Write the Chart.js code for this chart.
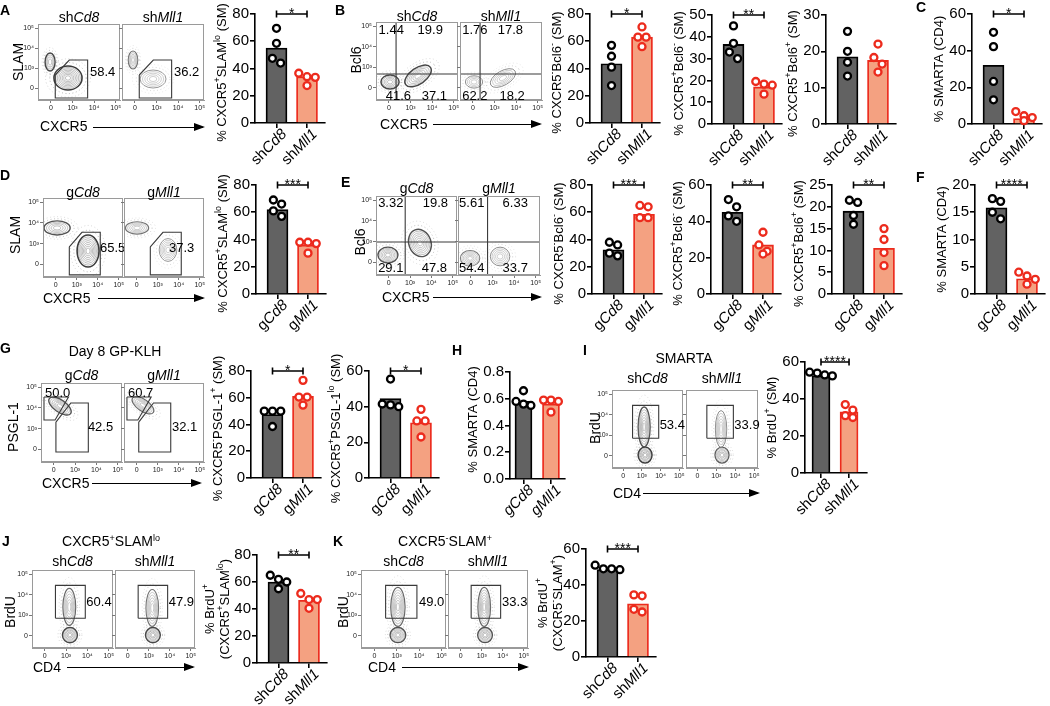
<!DOCTYPE html>
<html>
<head>
<meta charset="utf-8">
<script src="https://cdn.jsdelivr.net/npm/chart.js@4.4.1/dist/chart.umd.min.js"></script>
<style>
  body { margin: 0; background: #fff; }
  #fig { position: relative; width: 1050px; height: 706px; overflow: hidden;
         font-family: "Liberation Sans", Arial, sans-serif; color: #000; }
  #fig canvas { position: absolute; }
  .t { position: absolute; white-space: nowrap; line-height: 1; font-size: 14px; }
  .t sup { font-size: 9px; vertical-align: 5px; line-height: 0; }
  .arr { position: absolute; height: 0; border-top: 1.6px solid #000; }
  .arr:after { content: ""; position: absolute; right: -2px; top: -5.5px;
               border-left: 11px solid #000; border-top: 4.5px solid transparent;
               border-bottom: 4.5px solid transparent; }
</style>
</head>
<body>
<div id="fig"></div>
<script>
const FONT = '"Liberation Sans", Arial, sans-serif';
Chart.defaults.font.family = FONT;
Chart.defaults.color = '#000';

// ---- bar + dot data (means, then the four mice per group) ----
const SH = ['sh{i:Cd8}', 'sh{i:Mll1}'];
const G = ['g{i:Cd8}', 'g{i:Mll1}'];
const G_IT = ['{i:gCd8}', '{i:gMll1}'];

const A_MEANS = [55, 34],      A_CD8 = [69.5, 58.5, 47.5, 44],  A_MLL1 = [36.5, 34, 33.5, 27.5];
const B1_MEANS = [43.5, 63],   B1_CD8 = [57, 49, 41, 27.5],     B1_MLL1 = [70.5, 63, 63, 56];
const B2_MEANS = [36.5, 17],   B2_CD8 = [45, 37, 33, 30],       B2_MLL1 = [19.5, 18.3, 17.8, 13.7];
const B3_MEANS = [18.5, 17.5], B3_CD8 = [25.5, 20, 17, 13.2],   B3_MLL1 = [22, 18.3, 16.5, 14.3];
const C_MEANS = [32, 3],       C_CD8 = [50, 42.2, 23.2, 13.2],  C_MLL1 = [6.8, 4.5, 3.5, 1.8];
const D_MEANS = [62, 36],      D_CD8 = [69, 66, 61, 57],        D_MLL1 = [38, 38, 37, 30];
const E1_MEANS = [32.5, 58.5], E1_CD8 = [38, 36, 30, 28],       E1_MLL1 = [65, 64, 56, 56];
const E2_MEANS = [45, 27],     E2_CD8 = [52, 48, 43, 40],       E2_MLL1 = [34, 27, 23.5, 22];
const E3_MEANS = [19, 10.5],   E3_CD8 = [21.5, 21, 18, 16],     E3_MLL1 = [15, 12.5, 9.5, 6.5];
const F_MEANS = [15.8, 2.8],   F_CD8 = [17.5, 17, 15, 13.8],    F_MLL1 = [4, 3.3, 2.7, 1.8];
const G1_MEANS = [47.5, 61],   G1_CD8 = [50, 50, 50, 38.5],     G1_MLL1 = [73, 60.5, 60.5, 54.5];
const G2_MEANS = [44.5, 31],   G2_CD8 = [55.5, 41.5, 41, 40],   G2_MLL1 = [38.5, 32, 32, 23];
const H_MEANS = [0.58, 0.56],  H_CD8 = [0.66, 0.58, 0.56, 0.55], H_MLL1 = [0.59, 0.59, 0.58, 0.5];
const I_MEANS = [52.5, 33],    I_CD8 = [54.5, 54, 53, 52.5],    I_MLL1 = [37, 34, 31, 30];
const J_MEANS = [60, 46.5],    J_CD8 = [65, 62, 60, 55],        J_MLL1 = [51.5, 47, 47, 40.5];
const K_MEANS = [48.5, 29.5],  K_CD8 = [51, 49, 49, 48.5],      K_MLL1 = [34.5, 34, 26.5, 25];

// ---- flow plot data (axis units: 0, 10^3, 10^4, 10^5 at 0..3) ----
const FLOW_TICKS = [0, 1, 2, 3];
const FLOW_TICK_LABELS = ['0', '10³', '10⁴', '10⁵'];
const GATE_SLAM = [[0.2, 0.65], [0.85, 1.4], [1.7, 1.4], [1.7, -0.5], [0.2, -0.5]];
const GATE_SLAM_D = [[0.65, 0.85], [1.25, 1.55], [2.12, 1.55], [2.12, -0.5], [0.65, -0.5]];
const GATE_PSGL_HI = [[-0.46, 2.53], [0.69, 2.53], [0.06, 1.42], [-0.46, 1.42]];
const GATE_PSGL_LO = [[0.1, 1.32], [0.8, 2.24], [1.62, 2.24], [1.62, -0.12], [0.1, -0.12]];
const GATE_BRDU = [[0.5, 0.85], [1.9, 0.85], [1.9, 2.45], [0.5, 2.45]];

const GRAY_FILL = '#626262', RED_FILL = '#f4a181', RED_LINE = '#ec2b1d';

const fig = document.getElementById('fig');

function makeCanvas(l, t, w, h) {
  const c = document.createElement('canvas');
  c.width = w; c.height = h;
  c.style.left = l + 'px'; c.style.top = t + 'px';
  c.style.width = w + 'px'; c.style.height = h + 'px';
  fig.appendChild(c);
  return c;
}

function addText(html, x, y, opt) {
  opt = opt || {};
  const d = document.createElement('div');
  d.className = 't';
  d.innerHTML = html;
  d.style.left = x + 'px';
  d.style.top = y + 'px';
  if (opt.size) d.style.fontSize = opt.size + 'px';
  if (opt.bold) d.style.fontWeight = 'bold';
  const ax = opt.align === 'c' ? '-50%' : '0';
  d.style.transform = opt.rot ? 'translate(-50%,-50%) rotate(-90deg)' : 'translate(' + ax + ',-50%)';
  fig.appendChild(d);
}

function addArrow(x1, x2, y) {
  const d = document.createElement('div');
  d.className = 'arr';
  d.style.left = x1 + 'px'; d.style.top = y + 'px'; d.style.width = (x2 - x1) + 'px';
  fig.appendChild(d);
}

// "{i:..}" italic, "{s:..}" superscript
function parseRich(s) {
  const out = [], re = /\{(i|s):([^}]*)\}/g;
  let last = 0, m;
  while ((m = re.exec(s))) {
    if (m.index > last) out.push({ t: s.slice(last, m.index), k: '' });
    out.push({ t: m[2], k: m[1] });
    last = re.lastIndex;
  }
  if (last < s.length) out.push({ t: s.slice(last), k: '' });
  return out;
}

function drawRich(ctx, s, x, y, size, align) {
  const segs = parseRich(s);
  const font = k => (k === 'i' ? 'italic ' : '') + (k === 's' ? Math.round(size * 0.66) : size) + 'px ' + FONT;
  let w = 0;
  segs.forEach(g => { ctx.font = font(g.k); g.w = ctx.measureText(g.t).width; w += g.w; });
  let cx = align === 'right' ? x - w : align === 'center' ? x - w / 2 : x;
  const base = y + size * 0.36;
  ctx.textAlign = 'left';
  ctx.textBaseline = 'alphabetic';
  segs.forEach(g => {
    ctx.font = font(g.k);
    ctx.fillText(g.t, cx, g.k === 's' ? base - size * 0.4 : base);
    cx += g.w;
  });
}

// spread dots sideways when they would overlap
function swarm(vals, max) {
  const thr = max * 0.075;
  const idx = vals.map((v, i) => i).sort((a, b) => vals[b] - vals[a]);
  const offs = vals.map(() => 0);
  let i = 0;
  while (i < idx.length) {
    let j = i;
    while (j + 1 < idx.length && vals[idx[i]] - vals[idx[j + 1]] < thr) j++;
    const n = j - i + 1;
    for (let k = 0; k < n; k++) offs[idx[i + k]] = (k - (n - 1) / 2) * 0.27;
    i = j + 1;
  }
  return offs;
}

function barDecor(p) {
  return {
    id: 'decor',
    afterDraw(chart) {
      const ctx = chart.ctx, sx = chart.scales.x, sy = chart.scales.y;
      ctx.save();
      ctx.fillStyle = '#000';
      ctx.strokeStyle = '#000';
      if (p.star) {
        const y = sy.getPixelForValue(p.max), x1 = sx.getPixelForValue(1), x2 = sx.getPixelForValue(2);
        ctx.lineWidth = 1.6;
        ctx.beginPath();
        ctx.moveTo(x1, y); ctx.lineTo(x2, y);
        ctx.moveTo(x1, y - 3.5); ctx.lineTo(x1, y + 3.5);
        ctx.moveTo(x2, y - 3.5); ctx.lineTo(x2, y + 3.5);
        ctx.stroke();
        ctx.font = '14px ' + FONT;
        ctx.textAlign = 'center';
        ctx.textBaseline = 'alphabetic';
        ctx.fillText(p.star, (x1 + x2) / 2, y + 4);
      }
      const lines = Array.isArray(p.title) ? p.title : [p.title];
      const tx = p.tx || [-34];
      const cy = (sy.top + sy.bottom) / 2 + (p.ty === undefined ? 4 : p.ty);
      lines.forEach((ln, i) => {
        ctx.save();
        ctx.translate(sx.left + tx[i], cy);
        ctx.rotate(-Math.PI / 2);
        drawRich(ctx, ln, 0, 0, 13, 'center');
        ctx.restore();
      });
      p.labels.forEach((lab, i) => {
        const x = sx.getPixelForValue(i + 1);
        ctx.save();
        ctx.translate(x + 7, sy.bottom + 8);
        ctx.rotate(-Math.PI / 4);
        drawRich(ctx, lab, 0, 0, 15, 'right');
        ctx.restore();
      });
      ctx.restore();
    }
  };
}

function barChart(p) {
  const g = Object.assign({ w: 70, bw: 21, min: 0.295, max: 2.59 }, p.geo || {});
  const left = p.x0 - 78, top = p.yTop - 30;
  const W = 78 + g.w + 6, H = p.yBot - top + 55;
  const cv = makeCanvas(left, top, W, H);
  const offA = swarm(p.a, p.max), offB = swarm(p.b, p.max);
  const dots = (vals, offs, x, col) => ({
    type: 'scatter', data: vals.map((v, i) => ({ x: x + offs[i], y: v })),
    pointRadius: 3.5, pointBorderWidth: 2.3, pointBackgroundColor: '#fff',
    pointBorderColor: col, clip: false, order: 1
  });
  const axisGrid = { drawOnChartArea: false, color: '#000', lineWidth: 1.6, tickLength: 5, offset: false };
  new Chart(cv, {
    type: 'bar',
    data: {
      datasets: [
        { data: [{ x: 1, y: p.means[0] }, { x: 2, y: p.means[1] }],
          backgroundColor: [GRAY_FILL, RED_FILL], borderColor: ['#000', RED_LINE],
          borderWidth: 1.8, barThickness: g.bw, order: 2 },
        dots(p.a, offA, 1, '#000'),
        dots(p.b, offB, 2, RED_LINE)
      ]
    },
    options: {
      responsive: false, animation: false, devicePixelRatio: 1,
      layout: { padding: { left: 0, right: 6, top: p.yTop - top, bottom: 0 }, autoPadding: false },
      plugins: { legend: { display: false }, tooltip: { enabled: false } },
      scales: {
        x: {
          type: 'linear', min: g.min, max: g.max, offset: false, bounds: 'data',
          afterDataLimits: s => { s.min = g.min; s.max = g.max; },
          afterBuildTicks: s => { s.ticks = [{ value: 1 }, { value: 2 }]; },
          afterFit: s => { s.height = H - (p.yBot - top); s.paddingLeft = 0; s.paddingRight = 0; },
          ticks: { display: false },
          grid: axisGrid,
          border: { color: '#000', width: 1.6 }
        },
        y: {
          min: 0, max: p.max,
          afterFit: s => { s.width = 78; },
          ticks: { stepSize: p.step, font: { size: 15 }, padding: 1, color: '#000',
                   callback: v => (p.dec ? v.toFixed(p.dec) : v) },
          grid: axisGrid,
          border: { color: '#000', width: 1.6 }
        }
      }
    },
    plugins: [barDecor(p)]
  });
}

function drawBlob(ctx, sx, sy, b) {
  const [cx, cy, rx, ry, rot, n, tone] = b;
  const px = sx.getPixelForValue(cx), py = sy.getPixelForValue(cy);
  const prx = sx.getPixelForValue(cx + rx) - px, pry = py - sy.getPixelForValue(cy + ry);
  const a = rot * Math.PI / 180;
  ctx.setLineDash([1, 2.5]);
  ctx.lineWidth = 0.8;
  ctx.strokeStyle = 'rgba(110,110,110,' + (0.25 + 0.35 * tone) + ')';
  ctx.beginPath(); ctx.ellipse(px, py, prx * 1.3, pry * 1.3, a, 0, 2 * Math.PI); ctx.stroke();
  ctx.strokeStyle = 'rgba(130,130,130,' + (0.15 + 0.25 * tone) + ')';
  ctx.beginPath(); ctx.ellipse(px, py, prx * 1.6, pry * 1.6, a, 0, 2 * Math.PI); ctx.stroke();
  ctx.setLineDash([]);
  for (let k = 0; k < n; k++) {
    const f = 1 - k / (n + 0.6);
    const v = k === 0 ? Math.round(170 - 110 * tone) : Math.round(185 - 35 * tone);
    ctx.lineWidth = k === 0 ? 0.7 + 0.9 * tone : 0.6;
    ctx.strokeStyle = 'rgb(' + v + ',' + v + ',' + v + ')';
    ctx.beginPath(); ctx.ellipse(px, py, prx * f, pry * f, a, 0, 2 * Math.PI); ctx.stroke();
  }
}

function flowDecor(blobs, labels) {
  return {
    id: 'flowDecor',
    beforeDatasetsDraw(chart) {
      const ctx = chart.ctx, sx = chart.scales.x, sy = chart.scales.y, a = chart.chartArea;
      ctx.save();
      ctx.beginPath(); ctx.rect(a.left, a.top, a.right - a.left, a.bottom - a.top); ctx.clip();
      blobs.forEach(b => drawBlob(ctx, sx, sy, b));
      ctx.restore();
    },
    afterDraw(chart) {
      const ctx = chart.ctx, sx = chart.scales.x, sy = chart.scales.y, a = chart.chartArea;
      ctx.save();
      ctx.strokeStyle = '#9a9a9a';
      ctx.lineWidth = 1;
      ctx.strokeRect(a.left + 0.5, a.top + 0.5, a.right - a.left - 1, a.bottom - a.top - 1);
      ctx.fillStyle = '#000';
      labels.forEach(([t, x, y, al]) => {
        ctx.font = '13px ' + FONT;
        ctx.textAlign = al;
        ctx.textBaseline = 'middle';
        ctx.fillText(t, sx.getPixelForValue(x), sy.getPixelForValue(y));
      });
      ctx.restore();
    }
  };
}

function flowChart(fs, bi) {
  const box = fs.boxes[bi];
  const left = box.l - 20, top = box.t - 3;
  const W = box.w + 23, H = box.h + 17;
  const cv = makeCanvas(left, top, W, H);
  const ds = [];
  const line = pts => ({
    data: pts.map(([x, y]) => ({ x, y })), showLine: true, pointRadius: 0,
    borderColor: '#3a3a3a', borderWidth: 1.1, clip: false
  });
  (fs.gates || []).forEach(poly => ds.push(line(poly.concat([poly[0]]))));
  if (fs.quad) {
    ds.push(line([[-0.6, fs.quad[1]], [3.2, fs.quad[1]]]));
    ds.push(line([[fs.quad[0], -0.6], [fs.quad[0], 3.2]]));
  }
  const axis = (show, fit) => ({
    min: -0.6, max: 3.2,
    afterBuildTicks: s => { s.ticks = FLOW_TICKS.map(v => ({ value: v })); },
    afterFit: fit,
    ticks: { display: show, font: { size: 7 }, padding: 1, color: '#222', maxRotation: 0, autoSkip: false,
             callback: v => FLOW_TICK_LABELS[FLOW_TICKS.indexOf(v)] },
    grid: { drawOnChartArea: false, tickLength: 3, color: '#777', lineWidth: 1 },
    border: { color: '#9a9a9a', width: 1 }
  });
  new Chart(cv, {
    type: 'scatter',
    data: { datasets: ds },
    options: {
      responsive: false, animation: false, devicePixelRatio: 1,
      layout: { padding: { left: 0, top: 3, right: 3, bottom: 0 }, autoPadding: false },
      plugins: { legend: { display: false }, tooltip: { enabled: false } },
      scales: {
        x: axis(true, s => { s.height = 14; s.paddingLeft = 0; s.paddingRight = 0; }),
        y: axis(bi === 0, s => { s.width = 20; s.paddingTop = 0; s.paddingBottom = 0; })
      }
    },
    plugins: [flowDecor(fs.blobs[bi], fs.labels[bi])]
  });
}

// ---- panels ----
const BARS = [
  { x0: 255, yTop: 14, yBot: 123, max: 80, step: 20, means: A_MEANS, a: A_CD8, b: A_MLL1, labels: SH,
    title: '% CXCR5{s:+}SLAM{s:lo} (SM)', star: '*' },
  { x0: 590, yTop: 14, yBot: 123, max: 80, step: 20, means: B1_MEANS, a: B1_CD8, b: B1_MLL1, labels: SH,
    title: '% CXCR5{s:-}Bcl6{s:-} (SM)', star: '*' },
  { x0: 712, yTop: 15, yBot: 124, max: 50, step: 10, means: B2_MEANS, a: B2_CD8, b: B2_MLL1, labels: SH,
    title: '% CXCR5{s:+}Bcl6{s:-} (SM)', star: '**' },
  { x0: 826, yTop: 15, yBot: 124, max: 30, step: 10, means: B3_MEANS, a: B3_CD8, b: B3_MLL1, labels: SH,
    title: '% CXCR5{s:+}Bcl6{s:+} (SM)' },
  { x0: 972, yTop: 14, yBot: 124, max: 60, step: 20, means: C_MEANS, a: C_CD8, b: C_MLL1, labels: SH,
    title: '% SMARTA (CD4)', star: '*', ty: 0 },
  { x0: 256, yTop: 185, yBot: 294, max: 80, step: 20, means: D_MEANS, a: D_CD8, b: D_MLL1, labels: G,
    title: '% CXCR5{s:+}SLAM{s:lo} (SM)', star: '***' },
  { x0: 592, yTop: 185, yBot: 294, max: 80, step: 20, means: E1_MEANS, a: E1_CD8, b: E1_MLL1, labels: G,
    title: '% CXCR5{s:-}Bcl6{s:-} (SM)', star: '***' },
  { x0: 711, yTop: 185, yBot: 294, max: 60, step: 20, means: E2_MEANS, a: E2_CD8, b: E2_MLL1, labels: G,
    title: '% CXCR5{s:+}Bcl6{s:-} (SM)', star: '**' },
  { x0: 832, yTop: 185, yBot: 294, max: 25, step: 5, means: E3_MEANS, a: E3_CD8, b: E3_MLL1, labels: G,
    title: '% CXCR5{s:+}Bcl6{s:+} (SM)', star: '**' },
  { x0: 975, yTop: 185, yBot: 294, max: 20, step: 5, means: F_MEANS, a: F_CD8, b: F_MLL1, labels: G,
    title: '% SMARTA (CD4)', star: '****', ty: 0 },
  { x0: 251, yTop: 371, yBot: 478, max: 80, step: 20, means: G1_MEANS, a: G1_CD8, b: G1_MLL1, labels: G,
    title: '% CXCR5{s:-}PSGL-1{s:+} (SM)', star: '*' },
  { x0: 369, yTop: 371, yBot: 478, max: 60, step: 20, means: G2_MEANS, a: G2_CD8, b: G2_MLL1, labels: G,
    title: '% CXCR5{s:+}PSGL-1{s:lo} (SM)', star: '*' },
  { x0: 510, yTop: 372, yBot: 479, max: 0.8, step: 0.2, dec: 1, means: H_MEANS, a: H_CD8, b: H_MLL1, labels: G_IT,
    title: '% SMARTA (CD4)', ty: -6, tx: [-38], geo: { w: 55, bw: 17, min: 0.51, max: 2.51 } },
  { x0: 805, yTop: 362, yBot: 473, max: 60, step: 20, means: I_MEANS, a: I_CD8, b: I_MLL1, labels: SH,
    title: '% BrdU{s:+} (SM)', star: '****', ty: 0, geo: { w: 62, bw: 18, min: 0.43, max: 2.64 } },
  { x0: 257, yTop: 555, yBot: 663, max: 80, step: 20, means: J_MEANS, a: J_CD8, b: J_MLL1, labels: SH,
    title: ['% BrdU{s:+}', '(CXCR5{s:+}SLAM{s:lo})'], tx: [-48, -33], star: '**', ty: 0 },
  { x0: 586, yTop: 549, yBot: 657, max: 60, step: 20, means: K_MEANS, a: K_CD8, b: K_MLL1, labels: SH,
    title: ['% BrdU{s:+}', '(CXCR5{s:-}SLAM{s:+})'], tx: [-44, -29], star: '***', ty: 0 }
];

const SH_HTML = ['sh<i>Cd8</i>', 'sh<i>Mll1</i>'];
const G_HTML = ['g<i>Cd8</i>', 'g<i>Mll1</i>'];

const FLOWS = [
  { boxes: [{ l: 38, t: 24, w: 82, h: 76 }, { l: 122, t: 24, w: 82, h: 76 }],
    gates: [GATE_SLAM],
    blobs: [[[-0.04, 1.3, 0.23, 0.45, 0, 4, 0.9], [0.79, 0.5, 0.65, 0.6, 0, 8, 1]],
            [[-0.09, 1.4, 0.22, 0.45, 0, 5, 0.5], [0.84, 0.45, 0.6, 0.45, 0, 5, 0.25]]],
    labels: [[['58.4', 1.81, 0.8, 'left']], [['36.2', 1.81, 0.8, 'left']]],
    titles: SH_HTML, titleY: 17, yLab: ['SLAM', 18, 62], xLab: ['CXCR5', 40, 126], arrow: [93, 203, 127] },
  { boxes: [{ l: 376, t: 22, w: 82, h: 78 }, { l: 460, t: 22, w: 82, h: 78 }],
    quad: [0.33, 0.67],
    blobs: [[[0.05, 0.28, 0.42, 0.34, 0, 5, 0.9], [1.35, 0.57, 0.7, 0.39, -35, 6, 0.9]],
            [[0.05, 0.28, 0.4, 0.3, 0, 4, 0.3], [1.39, 0.47, 0.65, 0.35, -30, 5, 0.3]]],
    labels: [[['1.44', -0.48, 2.81, 'left'], ['19.9', 2.5, 2.81, 'right'], ['41.6', -0.15, -0.45, 'left'], ['37.1', 2.69, -0.45, 'right']],
             [['1.76', -0.5, 2.81, 'left'], ['17.8', 2.32, 2.81, 'right'], ['62.2', -0.5, -0.45, 'left'], ['18.2', 2.4, -0.45, 'right']]],
    titles: SH_HTML, titleY: 16, yLab: ['Bcl6', 356, 60], xLab: ['CXCR5', 380, 124], arrow: [433, 540, 124] },
  { boxes: [{ l: 43, t: 198, w: 80, h: 79 }, { l: 124, t: 198, w: 80, h: 79 }],
    gates: [GATE_SLAM_D],
    blobs: [[[0.07, 1.76, 0.62, 0.34, 0, 5, 0.8], [1.54, 0.65, 0.52, 0.77, 0, 8, 1]],
            [[0.02, 1.76, 0.55, 0.3, 0, 5, 0.5], [1.49, 0.7, 0.42, 0.55, 0, 6, 0.25]]],
    labels: [[['65.5', 2.11, 0.79, 'left']], [['37.3', 1.54, 0.79, 'left']]],
    titles: G_HTML, titleY: 192, yLab: ['SLAM', 15, 235], xLab: ['CXCR5', 43, 298], arrow: [98, 203, 298] },
  { boxes: [{ l: 376, t: 196, w: 81, h: 79 }, { l: 458, t: 196, w: 82, h: 79 }],
    quad: [0.77, 0.99],
    blobs: [[[-0.04, 0.36, 0.47, 0.38, 0, 6, 0.8], [1.46, 0.94, 0.52, 0.67, -20, 7, 0.8]],
            [[-0.04, 0.2, 0.45, 0.38, 0, 6, 0.4], [1.35, 0.29, 0.45, 0.45, 0, 5, 0.3]]],
    labels: [[['3.32', -0.5, 2.86, 'left'], ['19.8', 2.78, 2.86, 'right'], ['29.1', -0.5, -0.26, 'left'], ['47.8', 2.73, -0.26, 'right']],
             [['5.61', -0.55, 2.86, 'left'], ['6.33', 2.64, 2.86, 'right'], ['54.4', -0.55, -0.26, 'left'], ['33.7', 2.64, -0.26, 'right']]],
    titles: G_HTML, titleY: 188, yLab: ['Bcl6', 360, 242], xLab: ['CXCR5', 382, 297], arrow: [433, 540, 297] },
  { boxes: [{ l: 41, t: 383, w: 81, h: 79 }, { l: 124, t: 383, w: 80, h: 79 }],
    gates: [GATE_PSGL_HI, GATE_PSGL_LO],
    blobs: [[[0.29, 2.09, 0.61, 0.29, 35, 6, 0.8]], [[0.3, 2.13, 0.6, 0.28, 35, 6, 0.6]]],
    labels: [[['50.0', -0.41, 2.72, 'left'], ['42.5', 1.6, 1.08, 'left']],
             [['60.7', -0.41, 2.72, 'left'], ['32.1', 1.68, 1.08, 'left']]],
    titles: G_HTML, titleY: 375, yLab: ['PSGL-1', 13, 427], xLab: ['CXCR5', 42, 483], arrow: [92, 200, 483],
    header: ['Day 8 GP-KLH', 115, 351] },
  { boxes: [{ l: 612, t: 390, w: 71, h: 78 }, { l: 686, t: 390, w: 72, h: 78 }],
    gates: [GATE_BRDU],
    blobs: [[[1.17, 0.03, 0.37, 0.39, 0, 6, 1], [1.12, 1.4, 0.32, 0.97, 0, 7, 0.8]],
            [[1.3, 0.03, 0.37, 0.39, 0, 6, 0.7], [1.25, 1.3, 0.3, 0.9, 0, 6, 0.3]]],
    labels: [[['53.4', 1.95, 1.49, 'left']], [['33.9', 1.95, 1.49, 'left']]],
    titles: SH_HTML, titleY: 378, yLab: ['BrdU', 595, 428], xLab: ['CD4', 613, 493], arrow: [643, 758, 493],
    header: ['SMARTA', 684, 358] },
  { boxes: [{ l: 32, t: 570, w: 81, h: 78 }, { l: 115, t: 570, w: 80, h: 78 }],
    gates: [GATE_BRDU],
    blobs: [[[1.18, 0.03, 0.35, 0.37, 0, 6, 0.9], [1.15, 1.4, 0.3, 0.9, 0, 6, 0.6]],
            [[1.2, 0.03, 0.35, 0.37, 0, 6, 0.9], [1.17, 1.35, 0.3, 0.9, 0, 6, 0.5]]],
    labels: [[['60.4', 1.95, 1.64, 'left']], [['47.9', 1.95, 1.64, 'left']]],
    titles: SH_HTML, titleY: 561, yLab: ['BrdU', 10, 612], xLab: ['CD4', 33, 667], arrow: [67, 193, 667],
    header: ['CXCR5<sup>+</sup>SLAM<sup>lo</sup>', 111, 541] },
  { boxes: [{ l: 361, t: 570, w: 85, h: 78 }, { l: 448, t: 570, w: 80, h: 78 }],
    gates: [GATE_BRDU],
    blobs: [[[1.05, 0.03, 0.35, 0.37, 0, 6, 0.8], [1.05, 1.4, 0.32, 0.95, 0, 7, 0.6]],
            [[1.16, 0.03, 0.35, 0.37, 0, 6, 0.8], [1.12, 1.4, 0.3, 0.95, 0, 7, 0.6]]],
    labels: [[['49.0', 1.99, 1.64, 'left']], [['33.3', 1.97, 1.64, 'left']]],
    titles: SH_HTML, titleY: 561, yLab: ['BrdU', 343, 612], xLab: ['CD4', 368, 667], arrow: [402, 527, 667],
    header: ['CXCR5<sup>-</sup>SLAM<sup>+</sup>', 445, 541] }
];

const LETTERS = [['A', 0, 10], ['B', 335, 10], ['C', 916, 7], ['D', 0, 175], ['E', 341, 182], ['F', 916, 177],
                 ['G', 0, 348], ['H', 452, 350], ['I', 583, 350], ['J', 2, 541], ['K', 333, 541]];

FLOWS.forEach(fs => {
  flowChart(fs, 0);
  flowChart(fs, 1);
  fs.boxes.forEach((b, i) => addText(fs.titles[i], b.l + b.w / 2, fs.titleY, { align: 'c' }));
  addText(fs.yLab[0], fs.yLab[1], fs.yLab[2], { rot: true });
  addText(fs.xLab[0], fs.xLab[1], fs.xLab[2]);
  addArrow(fs.arrow[0], fs.arrow[1], fs.arrow[2]);
  if (fs.header) addText(fs.header[0], fs.header[1], fs.header[2], { align: 'c' });
});
BARS.forEach(barChart);
LETTERS.forEach(([t, x, y]) => addText(t, x, y, { bold: true, size: 14 }));
</script>
</body>
</html>
